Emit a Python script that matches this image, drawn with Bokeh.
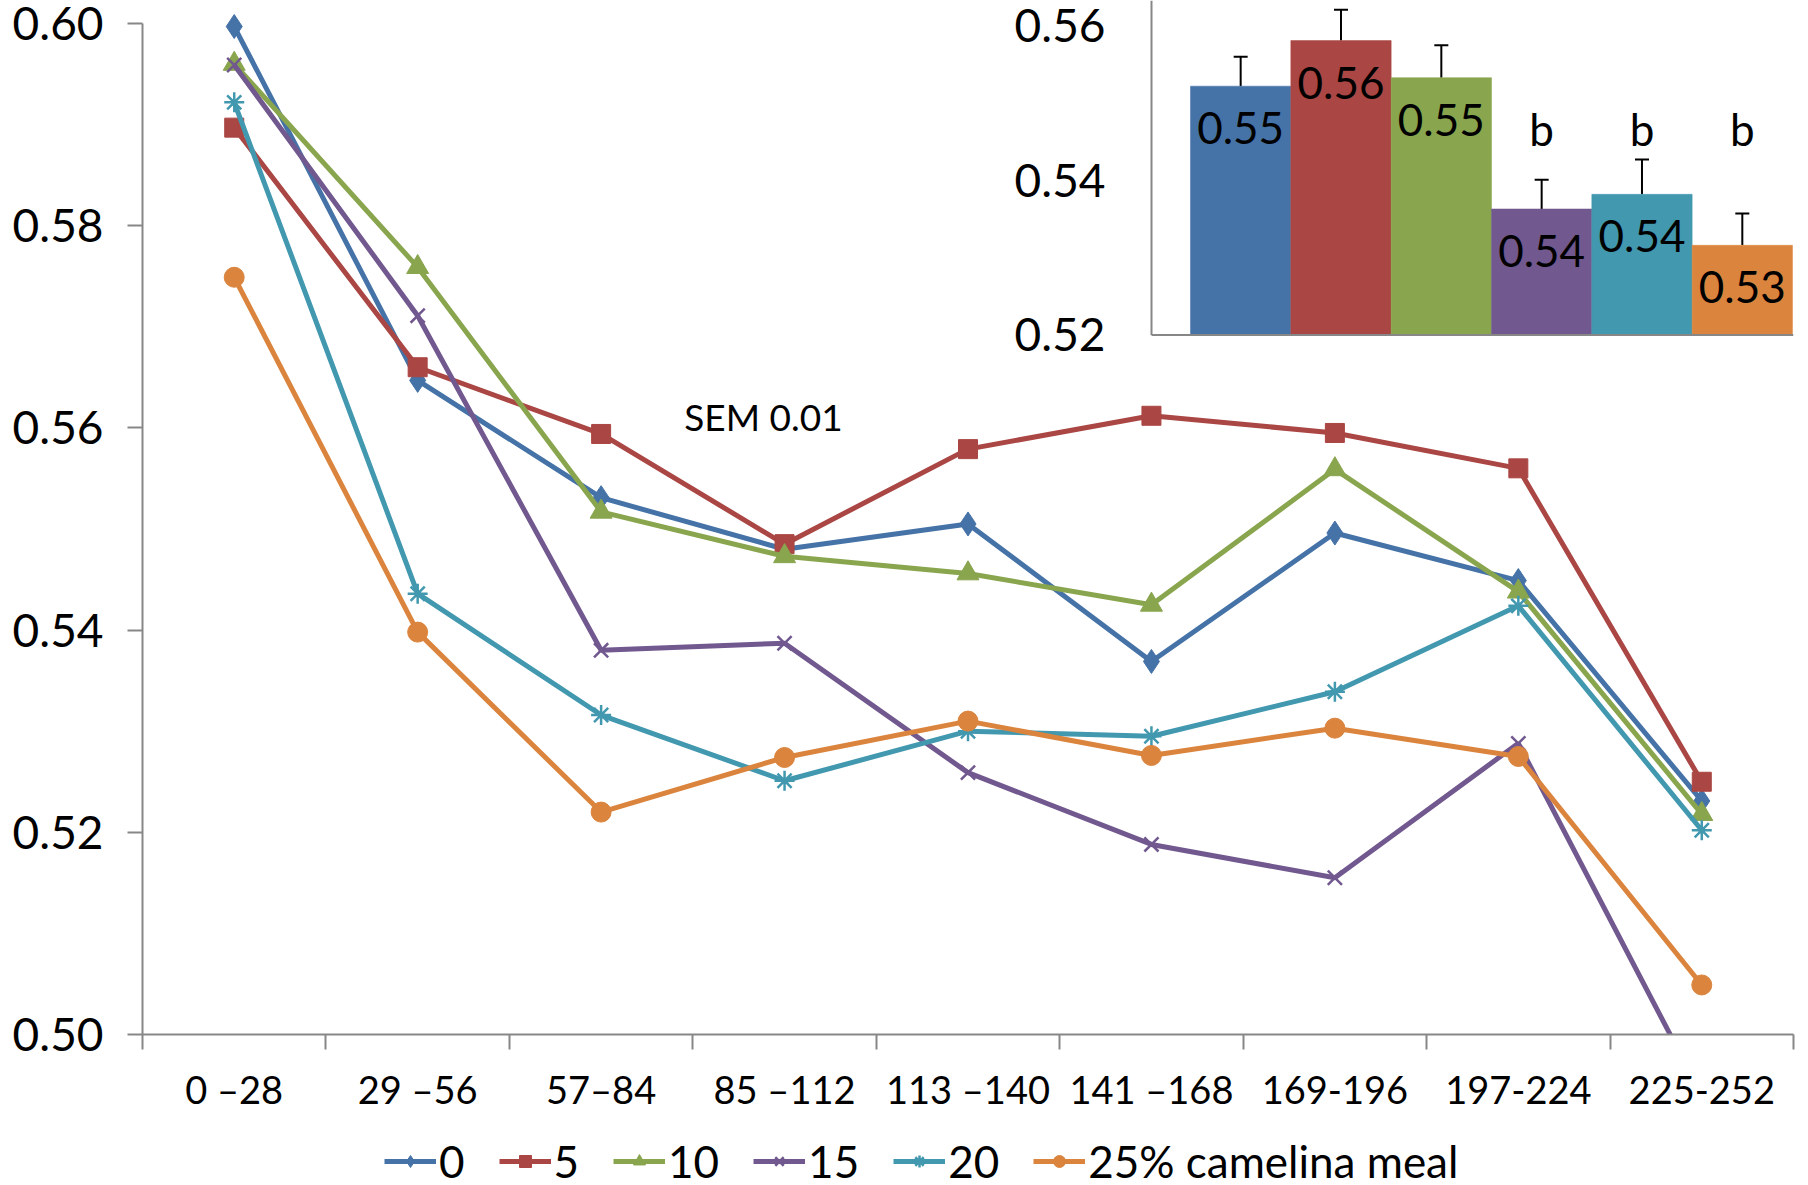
from bokeh.plotting import figure
from bokeh.layouts import column
from bokeh.models import (Range1d, FixedTicker, Legend, LegendItem, Label, Whisker,
                          TeeHead, ColumnDataSource, NumeralTickFormatter)
from bokeh.core.properties import value
from bokeh.embed import file_html
from bokeh.resources import INLINE

# ---------------- data ----------------
periods = ["0 \u201328", "29 \u201356", "57\u201384", "85 \u2013112", "113 \u2013140",
           "141 \u2013168", "169-196", "197-224", "225-252"]
series_names = ["0", "5", "10", "15", "20", "25% camelina meal"]
s0 = [0.5997, 0.5647, 0.5531, 0.5480, 0.5505, 0.5369, 0.5496, 0.5449, 0.5231]
s5 = [0.5897, 0.5660, 0.5594, 0.5485, 0.5579, 0.5612, 0.5595, 0.5560, 0.5250]
s10 = [0.5960, 0.5759, 0.5517, 0.5473, 0.5456, 0.5425, 0.5559, 0.5438, 0.5218]
s15 = [0.5959, 0.5711, 0.5380, 0.5387, 0.5259, 0.5188, 0.5155, 0.5288, 0.4940]
s20 = [0.5922, 0.5436, 0.5316, 0.5251, 0.5300, 0.5295, 0.5339, 0.5424, 0.5202]
s25 = [0.5749, 0.5398, 0.5220, 0.5274, 0.5310, 0.5276, 0.5303, 0.5275, 0.5049]
y_ticks = [0.50, 0.52, 0.54, 0.56, 0.58, 0.60]

inset_means = [0.5522, 0.5581, 0.5533, 0.5363, 0.5382, 0.5316]
inset_sem = [0.0038, 0.0040, 0.0042, 0.0038, 0.0045, 0.0041]
inset_letters = ["", "", "", "b", "b", "b"]
inset_ticks = [0.52, 0.54, 0.56]
sem_note = "SEM 0.01"

colors = ["#4572A7", "#AA4643", "#89A54E", "#71588F", "#4198AF", "#DB843D"]
markers = ["diamond", "square", "triangle", "x", "asterisk", "circle"]
msizes = [24, 19, 22, 20, 20, 20]

FONT = "Lato"
GREY = "#878787"
LW = 5

W = 1808
H_MAIN = 1125
H_LEG = 1185 - H_MAIN
FRAME_TOP_PX = 23       # pixel row of 0.60
FRAME_BOTTOM = 1034     # pixel row of 0.50
FRAME_L, FRAME_R = 142, W - 15
ppu = (FRAME_BOTTOM - FRAME_TOP_PX) / (y_ticks[-1] - y_ticks[0])

p = figure(width=W, height=H_MAIN, output_backend="svg", toolbar_location=None,
           x_range=Range1d(0, len(periods)),
           y_range=Range1d(y_ticks[0], y_ticks[-1] + FRAME_TOP_PX / ppu),
           min_border_left=FRAME_L, min_border_right=W - FRAME_R, min_border_top=0,
           min_border_bottom=H_MAIN - FRAME_BOTTOM, background_fill_color="white",
           border_fill_color="white")
p.outline_line_color = None
p.grid.visible = False

# ---- axes ----
xa = p.xaxis[0]
centers = [i + 0.5 for i in range(len(periods))]
xa.ticker = FixedTicker(ticks=centers, minor_ticks=list(range(len(periods) + 1)))
xa.major_label_overrides = {c: lab for c, lab in zip(centers, periods)}
xa.axis_line_color = GREY
xa.axis_line_width = 2
xa.major_tick_out = 0
xa.major_tick_in = 0
xa.minor_tick_out = 15
xa.minor_tick_in = 0
xa.minor_tick_line_color = GREY
xa.minor_tick_line_width = 2
xa.major_label_text_font = FONT
xa.major_label_text_font_size = "38px"
xa.major_label_text_color = "black"
xa.major_label_standoff = 16

ya = p.yaxis[0]
ya.ticker = FixedTicker(ticks=y_ticks)
ya.formatter = NumeralTickFormatter(format="0.00")
ya.bounds = (y_ticks[0], y_ticks[-1])
ya.axis_line_color = GREY
ya.axis_line_width = 2
ya.major_tick_out = 15
ya.major_tick_in = 0
ya.major_tick_line_color = GREY
ya.major_tick_line_width = 2
ya.minor_tick_line_color = None
ya.major_label_text_font = FONT
ya.major_label_text_font_size = "46px"
ya.major_label_text_color = "black"
ya.major_label_standoff = 24

# legend strip (separate small figure below the chart)
pl = figure(width=W, height=H_LEG, output_backend="svg", toolbar_location=None,
            x_range=Range1d(0, 1), y_range=Range1d(10, 11),
            x_axis_type=None, y_axis_type=None,
            min_border_left=0, min_border_right=0, min_border_top=0, min_border_bottom=0,
            background_fill_color="white", border_fill_color="white")
pl.outline_line_color = None
pl.grid.visible = False


def draw_series(fig, src, c, m, ms):
    lr = fig.line("x", "y", source=src, line_color=c, line_width=LW)
    if m in ("x", "asterisk"):
        sr = fig.scatter("x", "y", source=src, marker=m, size=ms, line_color=c,
                         line_width=2.5, fill_color=None)
    else:
        sr = fig.scatter("x", "y", source=src, marker=m, size=ms, line_color=c,
                         fill_color=c, line_width=1)
    return lr, sr


items = []
for name, vals, c, m, ms in zip(series_names, [s0, s5, s10, s15, s20, s25], colors, markers, msizes):
    src = ColumnDataSource(dict(x=centers, y=vals))
    draw_series(p, src, c, m, ms)
    lr, sr = draw_series(pl, src, c, m, ms)   # outside the strip's ranges: only the legend shows
    items.append(LegendItem(label=name, renderers=[lr, sr]))

legend = Legend(items=items, orientation="horizontal", location=(384 - FRAME_L, -2),
                glyph_width=52, glyph_height=30, label_standoff=3, spacing=34,
                padding=0, margin=0, border_line_color=None, background_fill_alpha=0,
                label_text_font=FONT, label_text_font_size="44px",
                label_text_color="black", label_height=40)
pl.add_layout(legend, "center")

# SEM note
p.add_layout(Label(x=3.385, y=0.5611, text=sem_note, text_align="center",
                   text_baseline="middle", text_font=FONT, text_font_size="37px",
                   text_color="black"))

# ---------------- inset (bar chart) ----------------
i_bar_left_px, i_unit_px = 1190, 100.33
i_y052_px, i_y056_px = 334.4, 25.4
ipp = (i_y052_px - i_y056_px) / (inset_ticks[-1] - inset_ticks[0])
ix0 = -(i_bar_left_px - FRAME_L) / i_unit_px
ix1 = (FRAME_R - i_bar_left_px) / i_unit_px
iy1 = inset_ticks[-1] + i_y056_px / ipp
iy0 = inset_ticks[0] - (FRAME_BOTTOM - i_y052_px) / ipp
p.extra_x_ranges = {"ix": Range1d(ix0, ix1)}
p.extra_y_ranges = {"iy": Range1d(iy0, iy1)}
ibase = inset_ticks[0]
ixc = [i + 0.5 for i in range(len(inset_means))]
isrc = ColumnDataSource(dict(x=ixc, top=inset_means,
                             upper=[m + s for m, s in zip(inset_means, inset_sem)],
                             color=colors,
                             lab=["%.2f" % v for v in inset_means],
                             let=inset_letters))
p.vbar(x="x", top="top", bottom=ibase, width=1.0, fill_color="color", line_color="color",
       line_width=0.5, source=isrc, x_range_name="ix", y_range_name="iy")
wk = Whisker(base="x", lower="top", upper="upper", source=isrc, dimension="height",
             line_color="black", line_width=2,
             upper_head=TeeHead(size=14, line_color="black", line_width=2),
             lower_head=None, x_range_name="ix", y_range_name="iy")
p.add_layout(wk)
p.text(x="x", y="top", text="lab", source=isrc, x_range_name="ix", y_range_name="iy",
       text_align="center", text_baseline="middle", y_offset=42,
       text_font=value(FONT), text_font_size="44px", text_color="black")
p.text(x="x", y=0.5466, text="let", source=isrc, x_range_name="ix", y_range_name="iy",
       text_align="center", text_baseline="middle",
       text_font=value(FONT), text_font_size="44px", text_color="black")
# inset axis lines
iax = -(i_bar_left_px - 1151) / i_unit_px
p.segment(x0=[iax, iax], y0=[ibase, ibase], x1=[iax, ix1], y1=[iy1, ibase],
          line_color=GREY, line_width=2, x_range_name="ix", y_range_name="iy")
p.text(x=[-(i_bar_left_px - 1105) / i_unit_px] * len(inset_ticks), y=inset_ticks,
       text=["%.2f" % t for t in inset_ticks],
       x_range_name="ix", y_range_name="iy", text_align="right", text_baseline="middle",
       text_font=value(FONT), text_font_size="46px", text_color="black")

layout = column(p, pl, spacing=0)
open("out.html", "w").write(file_html(layout, INLINE))
